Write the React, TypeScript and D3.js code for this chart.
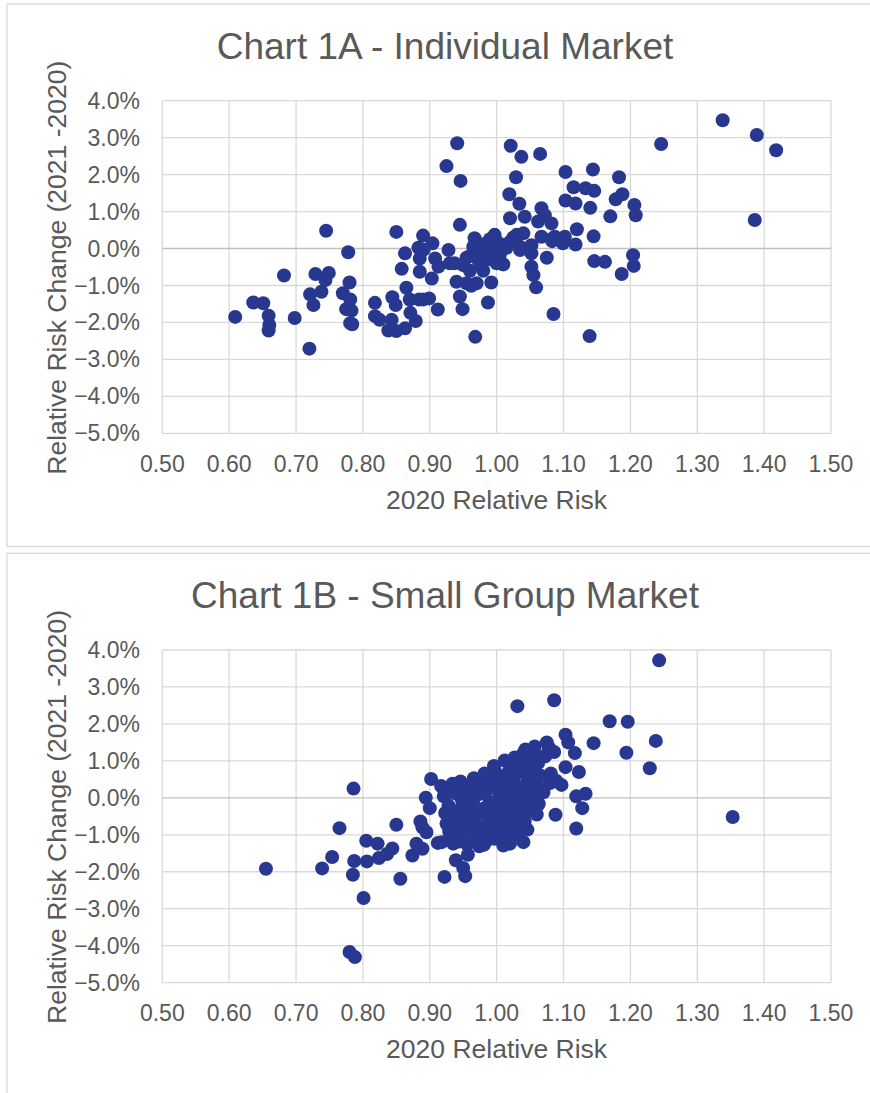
import React from "react";
import * as d3 from "d3";

const xTicks = [0.5, 0.6, 0.7, 0.8, 0.9, 1.0, 1.1, 1.2, 1.3, 1.4, 1.5];
const yTicks = [4, 3, 2, 1, 0, -1, -2, -3, -4, -5];

const titles = ["Chart 1A - Individual Market", "Chart 1B - Small Group Market"];
const xTitle = "2020 Relative Risk";
const yTitle = "Relative Risk Change (2021 -2020)";

// [2020 relative risk, relative risk change %]
const individual: [number, number][] = [
  [0.609, -1.85], [0.636, -1.46], [0.651, -1.48], [0.659, -1.82], [0.66, -2.07], [0.659, -2.22],
  [0.682, -0.73], [0.698, -1.88], [0.72, -2.71], [0.721, -1.24], [0.726, -1.53], [0.729, -0.69],
  [0.738, -1.17], [0.744, -0.85], [0.745, 0.48], [0.749, -0.66], [0.77, -1.21], [0.775, -1.64],
  [0.778, -0.1], [0.78, -0.92], [0.781, -1.38], [0.783, -1.68], [0.781, -2.02], [0.784, -2.05],
  [0.818, -1.47], [0.818, -1.83], [0.825, -1.93], [0.838, -2.22], [0.843, -1.93], [0.844, -1.32],
  [0.849, -1.53], [0.85, -2.23], [0.85, 0.45], [0.858, -0.55], [0.863, -0.13], [0.863, -2.16],
  [0.865, -1.06], [0.871, -1.74], [0.879, -1.96], [0.884, -1.38], [0.899, -1.35], [0.912, -1.65],
  [0.885, -0.63], [0.903, -0.81], [0.883, 0.02], [0.89, 0.35], [0.904, 0.14], [0.885, -0.27],
  [0.891, -0.03], [0.908, -0.27], [0.913, -0.49], [0.925, 2.23], [0.928, -0.04], [0.93, -0.4],
  [0.941, 2.85], [0.946, 1.83], [0.945, 0.64], [0.95, -0.45], [0.937, -0.4], [0.94, -0.9],
  [0.955, -0.94], [0.962, -1.01], [0.97, -0.94], [0.949, -1.64], [0.968, -2.39], [0.987, -1.46],
  [0.967, 0.28], [0.965, 0.05], [0.975, -0.18], [0.977, -0.45], [0.96, -0.6], [0.992, -0.92],
  [0.997, 0.37], [0.997, 0.0], [0.985, -0.1], [0.992, -0.3], [1.01, -0.43], [1.0, -0.4],
  [1.02, 0.82], [1.019, 1.47], [1.021, 2.78], [1.029, 1.93], [1.034, 1.21], [1.037, 2.48],
  [1.042, 0.86], [1.065, 2.56], [1.067, 1.09], [1.062, 0.73], [1.082, 0.68], [1.03, 0.37],
  [1.04, 0.41], [1.02, 0.18], [1.035, 0.05], [1.052, 0.09], [1.067, 0.32], [1.084, 0.28],
  [1.099, 0.14], [1.052, -0.13], [1.075, -0.25], [1.052, -0.49], [1.055, -0.72], [1.059, -1.05],
  [1.085, -1.77], [1.139, -2.37], [1.103, 2.07], [1.144, 2.14], [1.183, 1.93], [1.246, 2.83],
  [1.338, 3.47], [1.389, 3.07], [1.418, 2.66], [1.386, 0.77], [1.115, 1.66], [1.133, 1.63],
  [1.146, 1.56], [1.103, 1.3], [1.118, 1.22], [1.14, 1.1], [1.178, 1.33], [1.188, 1.47],
  [1.206, 1.18], [1.208, 0.9], [1.17, 0.87], [1.145, 0.33], [1.12, 0.52], [1.118, 0.11],
  [1.102, 0.32], [1.146, -0.34], [1.162, -0.36], [1.187, -0.69], [1.204, -0.18], [1.205, -0.47],
  [1.072, 0.9], [1.087, 0.32], [1.083, 0.2], [1.009, -0.42], [1.035, -0.04], [1.01, 0.1],
  [0.99, 0.25], [0.975, 0.12], [0.945, -1.3], [0.87, -1.38], [0.89, -1.38], [0.96, -0.2],
  [0.955, -0.25], [1.0, 0.2], [1.025, 0.3], [0.98, -0.6], [0.982, 0.05], [1.005, -0.15],
  [0.972, -0.3], [1.015, 0.02],
];

const smallGroup: [number, number][] = [
  [0.655, -1.92], [0.739, -1.91], [0.754, -1.6], [0.765, -0.82], [0.786, 0.25], [0.785, -2.08],
  [0.787, -1.71], [0.806, -1.72], [0.801, -2.71], [0.78, -4.17], [0.788, -4.31], [0.805, -1.16],
  [0.822, -1.24], [0.824, -1.63], [0.836, -1.52], [0.844, -1.37], [0.85, -0.73], [0.856, -2.19],
  [0.874, -1.56], [0.88, -1.24], [0.889, -1.38], [0.886, -0.64], [0.889, -0.8], [0.895, -0.93],
  [0.902, 0.51], [0.894, 0.0], [0.9, -0.28], [0.912, -1.22], [0.922, -2.14], [0.939, -1.69],
  [0.95, -1.9], [0.953, -2.12], [0.957, -1.54], [0.92, 0.26], [0.934, 0.38], [0.923, -0.41],
  [0.925, -0.7], [0.918, -1.2], [0.93, -1.15],
  [1.243, 3.72], [1.031, 2.48], [1.086, 2.64], [1.169, 2.07], [1.196, 2.06], [1.238, 1.54],
  [1.194, 1.22], [1.229, 0.8], [1.353, -0.52], [1.145, 1.48], [1.103, 1.71], [1.107, 1.5],
  [1.117, 1.21], [1.103, 0.83], [1.123, 0.7], [1.097, 0.35], [1.08, 0.4], [1.133, 0.11],
  [1.119, 0.04], [1.128, -0.28], [1.119, -0.83], [1.088, -0.46], [1.063, -0.16], [1.06, -0.45],
  [1.046, -0.86], [1.04, -1.2], [1.01, -1.29], [0.981, -1.27], [1.074, 1.16], [1.057, 1.39],
  [1.075, 1.5], [1.04, 1.21], [1.025, 0.89], [0.997, 0.76], [1.066, 0.6], [1.072, 1.12],
  [1.062, -0.19],
  // dense cluster
  [0.917, 0.32], [0.921, 0.04], [0.928, -0.21], [0.933, -0.46], [0.936, -0.66], [0.929, -0.91],
  [0.94, -1.06], [0.935, -1.24], [0.946, 0.44], [0.951, 0.19], [0.948, -0.06], [0.955, -0.31],
  [0.952, -0.56], [0.958, -0.79], [0.947, -1.01], [0.956, -1.26], [0.966, 0.53], [0.969, 0.31],
  [0.972, 0.09], [0.965, -0.16], [0.974, -0.41], [0.967, -0.62], [0.971, -0.86], [0.968, -1.09],
  [0.974, -1.31], [0.982, 0.66], [0.987, 0.39], [0.984, 0.16], [0.989, -0.11], [0.981, -0.29],
  [0.988, -0.54], [0.983, -0.76], [0.99, -0.96], [0.986, -1.14], [0.996, 0.86], [1.001, 0.61],
  [0.998, 0.34], [1.004, 0.11], [0.995, -0.14], [1.002, -0.41], [0.999, -0.64], [1.005, -0.89],
  [0.997, -1.11], [1.012, 1.01], [1.018, 0.71], [1.011, 0.46], [1.016, 0.19], [1.013, -0.06],
  [1.019, -0.31], [1.014, -0.56], [1.017, -0.81], [1.012, -1.04], [1.02, -1.24], [1.027, 1.09],
  [1.031, 0.81], [1.026, 0.56], [1.034, 0.29], [1.029, 0.06], [1.033, -0.24], [1.028, -0.51],
  [1.035, -0.74], [1.03, -0.99], [1.043, 1.31], [1.048, 1.01], [1.041, 0.69], [1.046, 0.44],
  [1.049, 0.16], [1.044, -0.11], [1.047, -0.36], [1.042, -0.64], [1.057, 1.19], [1.062, 0.94],
  [1.059, 0.51], [1.064, 0.26], [1.056, 0.01], [1.078, 1.36], [1.086, 1.24], [1.081, 0.66],
  [1.089, 0.46], [0.975, 0.45], [0.96, 0.05], [1.008, 0.25], [1.022, -0.15], [0.992, 0.5],
  [1.038, 0.95], [1.053, 0.72], [1.07, 0.15], [0.942, -0.35], [0.962, -0.45], [1.006, -0.3],
  [0.938, 0.12], [0.943, -0.78], [0.961, -1.15], [0.978, 0.22], [0.993, -0.42], [1.009, -0.68],
  [1.023, 0.38], [1.037, -0.42], [1.051, -0.22], [0.958, 0.3], [0.944, -1.18], [0.979, -0.98],
  [1.003, 0.45], [1.025, -0.88], [1.039, 0.12],
];

const W = 870;
const H = 1093;
const OFFSET = 549.3;
const BLUE = "#283891";
const TEXT = "#595959";
const GRID = "#d9d9d9";
const FONT = "'Liberation Sans', Arial, sans-serif";

function Panel({ title, data, top }: { title: string; data: [number, number][]; top: number }) {
  const x = d3.scaleLinear().domain([0.5, 1.5]).range([162.3, 831]);
  const y = d3.scaleLinear().domain([-5, 4]).range([top + 332.6, top]);
  const fx = d3.format(".2f");
  const fy = (v: number) => d3.format(".1f")(v) + "%";
  return (
    <g>
      <rect x={7} y={top - 96.7} width={W + 10} height={542.5} fill="#fff" stroke={GRID} strokeWidth={1.3} />
      <text x={445} y={top - 41.7} textAnchor="middle" fontSize={37} fill={TEXT} fontFamily={FONT}>
        {title}
      </text>
      {xTicks.map((t) => (
        <line key={"vx" + t} x1={x(t)} x2={x(t)} y1={y(-5)} y2={y(4)} stroke={GRID} strokeWidth={1.3} />
      ))}
      {yTicks.map((t) => (
        <line key={"hy" + t} x1={x(0.5)} x2={x(1.5)} y1={y(t)} y2={y(t)} stroke={t === 0 ? "#bfbfbf" : GRID} strokeWidth={1.3} />
      ))}
      {yTicks.map((t) => (
        <text key={"ly" + t} x={140} y={y(t)} dy="0.35em" textAnchor="end" fontSize={23} fill={TEXT} fontFamily={FONT}>
          {fy(t)}
        </text>
      ))}
      {xTicks.map((t) => (
        <text key={"lx" + t} x={x(t)} y={top + 371.3} textAnchor="middle" fontSize={23} fill={TEXT} fontFamily={FONT}>
          {fx(t)}
        </text>
      ))}
      <text x={496.6} y={top + 408.3} textAnchor="middle" fontSize={26.5} fill={TEXT} fontFamily={FONT}>
        {xTitle}
      </text>
      <text
        transform={`translate(66,${top + 167}) rotate(-90)`}
        textAnchor="middle"
        fontSize={26.5}
        fill={TEXT}
        fontFamily={FONT}
      >
        {yTitle}
      </text>
      {data.map((d, i) => (
        <circle key={i} cx={x(d[0])} cy={y(d[1])} r={7} fill={BLUE} />
      ))}
    </g>
  );
}

export default function App() {
  return (
    <svg
      width={W}
      height={H}
      style={{ position: "absolute", left: 0, top: 0, background: "#fff" }}
    >
      <rect width={W} height={H} fill="#fff" />
      <Panel title={titles[0]} data={individual} top={100.7} />
      <Panel title={titles[1]} data={smallGroup} top={100.7 + OFFSET} />
    </svg>
  );
}
